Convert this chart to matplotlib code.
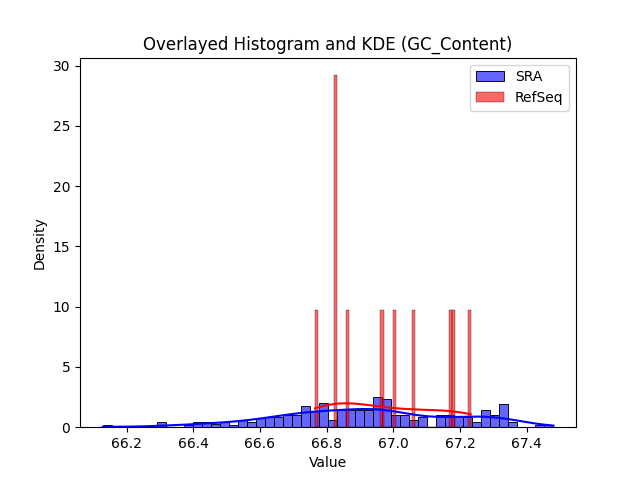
import numpy as np
import matplotlib
matplotlib.use("Agg")
import matplotlib.pyplot as plt
import seaborn as sns

# SRA GC content: representative value per histogram bin and how many samples fall there
sra_values = [66.128, 66.304, 66.385, 66.412, 66.439, 66.466, 66.493, 66.520,
              66.547, 66.574, 66.601, 66.628, 66.655, 66.682, 66.709, 66.736,
              66.763, 66.790, 66.817, 66.845, 66.872, 66.899, 66.926, 66.953,
              66.980, 67.007, 67.034, 67.061, 67.088, 67.142, 67.169, 67.196,
              67.223, 67.250, 67.277, 67.304, 67.331, 67.358, 67.439, 67.480]
sra_counts = [1, 3, 1, 3, 3, 2, 3, 1,
              4, 3, 5, 6, 6, 7, 7, 12,
              9, 14, 4, 10, 10, 10, 10, 17,
              16, 7, 7, 4, 6, 7, 7, 6,
              6, 3, 10, 7, 13, 3, 1, 1]

# RefSeq GC content values
refseq_values = [66.765, 66.823, 66.823, 66.823, 66.862, 66.964,
                 67.001, 67.057, 67.171, 67.179, 67.232]

sra = np.repeat(sra_values, sra_counts)

fig, ax = plt.subplots(figsize=(6.4, 4.8), dpi=100)
sns.histplot(sra, bins=50, stat='density', kde=True, color='blue',
             alpha=0.6, label='SRA', ax=ax)
sns.histplot(refseq_values, bins=50, stat='density', kde=True, color='red',
             alpha=0.6, label='RefSeq', ax=ax)

ax.set_title('Overlayed Histogram and KDE (GC_Content)')
ax.set_xlabel('Value')
ax.set_ylabel('Density')
ax.legend()

fig.savefig('out.png')
